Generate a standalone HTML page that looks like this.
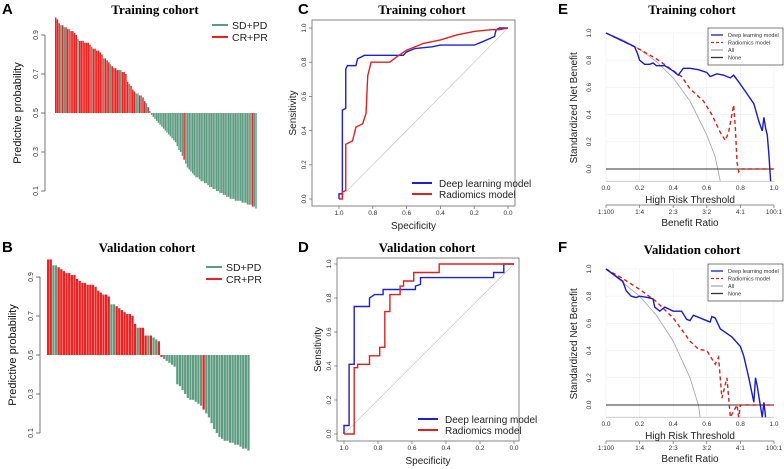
<!DOCTYPE html>
<html><head><meta charset="utf-8">
<style>
body{margin:0;background:#fff;width:784px;height:469px;overflow:hidden}
svg{position:absolute;left:0;top:0}
text{font-family:"Liberation Sans",sans-serif}
.tt{font-family:"Liberation Serif",serif;font-weight:bold;font-size:13px}
.pl{font-family:"Liberation Sans",sans-serif;font-weight:bold;font-size:15px}
</style></head><body>
<svg id="fig" width="784" height="469" viewBox="0 0 784 469">
<text class="pl" x="2" y="14">A</text>
<text class="tt" x="155" y="14" text-anchor="middle">Training cohort</text>
<text class="pl" x="2" y="252">B</text>
<text class="tt" x="147" y="252" text-anchor="middle">Validation cohort</text>
<text class="pl" x="298" y="14">C</text>
<text class="tt" x="422" y="14" text-anchor="middle">Training cohort</text>
<text class="pl" x="298" y="252">D</text>
<text class="tt" x="427" y="252" text-anchor="middle">Validation cohort</text>
<text class="pl" x="558" y="14">E</text>
<text class="tt" x="692" y="14" text-anchor="middle">Training cohort</text>
<text class="pl" x="558" y="252">F</text>
<text class="tt" x="692" y="254" text-anchor="middle">Validation cohort</text>
</svg>
<script>
// ---- Panel A data ----
const aValues = [0.99,0.98,0.96,0.95,0.95,0.94,0.94,0.93,0.93,0.92,0.92,0.91,0.90,0.88,0.87,0.87,0.87,0.86,0.86,0.86,0.85,0.84,0.83,0.83,0.82,0.82,0.81,0.80,0.78,0.78,0.77,0.76,0.75,0.74,0.73,0.73,0.72,0.72,0.72,0.71,0.71,0.70,0.66,0.65,0.64,0.62,0.61,0.60,0.60,0.59,0.59,0.58,0.56,0.55,0.53,0.51,
0.49,0.48,0.47,0.46,0.45,0.44,0.43,0.42,0.41,0.40,0.39,0.38,0.37,0.36,0.35,0.33,0.31,0.30,0.28,0.26,0.24,0.22,0.21,0.20,0.19,0.18,0.17,0.17,0.16,0.15,0.15,0.14,0.14,0.13,0.12,0.12,0.11,0.11,0.10,0.10,0.09,0.09,0.08,0.08,0.07,0.07,0.06,0.06,0.06,0.05,0.05,0.05,0.05,0.04,0.04,0.04,0.03,0.03,0.03,0.02,0.02,0.01];
const aLabels = "11101011011110111111101111110111011111011110111001011010"+"00000000000000000001000000000000000000000000000000000000000100";
// ---- Panel B data ----
const bValues = [0.99,0.99,0.96,0.96,0.95,0.94,0.93,0.92,0.92,0.91,0.91,0.89,0.88,0.87,0.87,0.86,0.86,0.86,0.85,0.83,0.82,0.81,0.81,0.80,0.76,0.76,0.75,0.74,0.73,0.72,0.71,0.71,0.70,0.66,0.64,0.64,0.64,0.60,0.60,0.60,0.59,0.58,0.57,0.49,
0.48,0.47,0.46,0.45,0.44,0.35,0.34,0.32,0.30,0.28,0.27,0.27,0.26,0.25,0.24,0.22,0.20,0.18,0.15,0.12,0.10,0.08,0.07,0.06,0.06,0.05,0.05,0.04,0.04,0.03,0.02,0.02,0.01];
const bLabels = "11001111111111111111111100111111110111010011"+"0000000000000001000000000000000000100";
// ---- ROC data (specificity, sensitivity) ----
const cDeepSpec=[1,1,0.98,0.98,0.96,0.96,0.95,0.9,0.89,0.87,0.85,0.62,0.6,0.55,0.45,0.4,0.2,0.15,0.08,0.07,0.05,0];
const cDeepSens=[0,0.03,0.03,0.52,0.53,0.76,0.78,0.78,0.82,0.83,0.84,0.84,0.86,0.88,0.89,0.9,0.9,0.92,0.95,0.99,1,1];
const cRadSpec=[1,0.98,0.98,0.96,0.96,0.92,0.9,0.86,0.84,0.83,0.81,0.7,0.66,0.6,0.5,0.4,0.3,0.2,0.1,0.05,0];
const cRadSens=[0,0,0.04,0.05,0.32,0.34,0.42,0.44,0.5,0.72,0.8,0.8,0.83,0.87,0.91,0.93,0.96,0.98,0.99,0.99,1];
const dDeepSpec=[1,1,0.97,0.97,0.94,0.94,0.85,0.85,0.82,0.77,0.77,0.58,0.58,0.55,0.55,0.12,0.12,0.06,0.06,0];
const dDeepSens=[0,0.05,0.05,0.41,0.41,0.75,0.75,0.8,0.82,0.82,0.85,0.85,0.87,0.88,0.92,0.92,0.95,0.95,1,1];
const dRadSpec=[1,0.94,0.94,0.92,0.92,0.85,0.85,0.79,0.79,0.76,0.76,0.73,0.73,0.67,0.67,0.65,0.65,0.59,0.59,0.44,0.44,0];
const dRadSens=[0,0,0.39,0.39,0.41,0.41,0.46,0.46,0.51,0.51,0.72,0.72,0.82,0.82,0.87,0.87,0.9,0.9,0.95,0.95,1,1];
// ---- DCA data (threshold, standardized net benefit) ----
const eDeepT=[0,0.17,0.19,0.2,0.23,0.26,0.28,0.3,0.35,0.4,0.43,0.46,0.5,0.55,0.6,0.62,0.66,0.7,0.74,0.76,0.79,0.83,0.88,0.91,0.93,0.94,0.95,0.96,0.97,0.98];
const eDeepNB=[1,0.9,0.84,0.8,0.77,0.77,0.78,0.76,0.76,0.72,0.69,0.74,0.74,0.73,0.71,0.68,0.7,0.69,0.67,0.69,0.64,0.57,0.48,0.35,0.28,0.38,0.3,0.25,0.1,-0.09];
const eRadT=[0,0.2,0.3,0.38,0.45,0.5,0.58,0.63,0.68,0.71,0.73,0.76,0.77,0.78,0.79,0.8,1];
const eRadNB=[1,0.88,0.81,0.74,0.68,0.59,0.5,0.4,0.27,0.21,0.27,0.47,0.3,0.05,-0.02,0,0];
const eAllT=[0,0.1,0.2,0.3,0.4,0.5,0.6,0.65,0.68];
const eAllNB=[1,0.95,0.88,0.79,0.67,0.5,0.25,0.09,-0.09];
const fDeepT=[0,0.1,0.12,0.15,0.18,0.2,0.25,0.28,0.29,0.32,0.35,0.4,0.45,0.48,0.5,0.52,0.56,0.6,0.62,0.63,0.65,0.68,0.75,0.8,0.82,0.85,0.88,0.89,0.9,0.93,0.94,0.95];
const fDeepNB=[1,0.91,0.84,0.8,0.79,0.8,0.79,0.78,0.72,0.69,0.72,0.69,0.69,0.63,0.62,0.66,0.64,0.62,0.61,0.65,0.64,0.56,0.5,0.43,0.36,0.2,0.02,0.2,0.14,-0.09,0.02,-0.09];
const fRadT=[0,0.1,0.2,0.3,0.4,0.5,0.55,0.6,0.62,0.65,0.67,0.69,0.72,0.74,0.78,0.79,0.8,1];
const fRadNB=[1,0.93,0.85,0.76,0.64,0.47,0.41,0.4,0.36,0.3,0.35,0.05,0.2,-0.09,0,-0.09,0,0];
const fAllT=[0,0.1,0.2,0.3,0.4,0.5,0.55,0.56];
const fAllNB=[1,0.9,0.8,0.66,0.47,0.2,0,-0.09];
const probTicks=["0.1","0.3","0.5","0.7","0.9"];
const rocTicks=["0.0","0.2","0.4","0.6","0.8","1.0"];
const ratioTicks=["1:100","1:4","2:3","3:2","4:1","100:1"];

const NS="http://www.w3.org/2000/svg";
const svg=document.getElementById('fig');
function mk(tag,attrs,txt){const e=document.createElementNS(NS,tag);for(const k in attrs)e.setAttribute(k,attrs[k]);if(txt!==undefined)e.textContent=txt;svg.appendChild(e);return e;}

// ---------- bar panels ----------
function barPanel(vals,labs,p){
  const sx=i=>p.x0+(p.x1-p.x0)*i/vals.length;
  const sy=v=>p.y5-(v-0.5)*p.k;
  const w=(p.x1-p.x0)/vals.length;
  vals.forEach((v,i)=>{
    const y1=sy(v),y0=sy(0.5);
    const r=mk('rect',{x:sx(i),y:Math.min(y0,y1),width:w*0.85,height:Math.abs(y1-y0),fill:labs[i]==='1'?'#f01e1e':'#5e9c82'});
    
    
  });
  const ax=mk('line',{x1:p.ax,x2:p.ax,y1:sy(0.9),y2:sy(0.1),stroke:'#555','stroke-width':0.8});
  
  
  probTicks.forEach(t=>{
    const v=parseFloat(t),y=sy(v);
    mk('line',{x1:p.ax-4,x2:p.ax,y1:y,y2:y,stroke:'#555','stroke-width':0.8});
    const tx=mk('text',{x:p.ax-7,y:y,'font-size':7,fill:'#333','text-anchor':'middle',transform:`rotate(-90 ${p.ax-7} ${y})`},t);
    
    
  });
  const yl=mk('text',{x:p.ax-24,y:sy(0.5),'font-size':11,fill:'#111','text-anchor':'middle',transform:`rotate(-90 ${p.ax-24} ${sy(0.5)})`},'Predictive probability');
  
  
  [['SD+PD','#5e9c82'],['CR+PR','#f01e1e']].forEach((l,j)=>{
    const y=p.ly+j*12;
    mk('line',{x1:p.lx,x2:p.lx+16,y1:y,y2:y,stroke:l[1],'stroke-width':2});
    const t=mk('text',{x:p.lx+20,y:y+4,'font-size':10.5,fill:'#222'},l[0]);
    
    
  });
}
barPanel(aValues,aLabels,{id:'a',x0:55,x1:257,y5:113,k:195,ax:45,lx:212,ly:25});
barPanel(bValues,bLabels,{id:'b',x0:47,x1:250,y5:355,k:195,ax:40,lx:206,ly:267});

// ---------- ROC panels ----------
function rocPanel(p,series){
  const X=s=>p.xs0+(p.xs1-p.xs0)*s;
  const Y=v=>p.ys0-(p.ys0-p.ys1)*v;
  const b=mk('rect',{x:p.bx0,y:p.by0,width:p.bx1-p.bx0,height:p.by1-p.by0,fill:'none',stroke:'#666','stroke-width':0.8});
  
  
  mk('line',{x1:X(1),y1:Y(0),x2:X(0),y2:Y(1),stroke:'#ccc','stroke-width':0.8});
  rocTicks.forEach(t=>{
    const v=parseFloat(t);
    mk('line',{x1:X(v),x2:X(v),y1:p.by1,y2:p.by1+3,stroke:'#666','stroke-width':0.7});
    const tx=mk('text',{x:X(v),y:p.by1+9,'font-size':6.5,fill:'#333','text-anchor':'middle'},t);
    
    
    mk('line',{x1:p.bx0-3,x2:p.bx0,y1:Y(v),y2:Y(v),stroke:'#666','stroke-width':0.7});
    const ty=mk('text',{x:p.bx0-6,y:Y(v),'font-size':6.5,fill:'#333','text-anchor':'middle',transform:`rotate(-90 ${p.bx0-6} ${Y(v)})`},t);
    
    
  });
  const xl=mk('text',{x:(p.bx0+p.bx1)/2,y:p.by1+23,'font-size':10,fill:'#222','text-anchor':'middle'},'Specificity');
  
  
  const ym=(p.by0+p.by1)/2;
  const yl=mk('text',{x:p.bx0-16,y:ym,'font-size':10,fill:'#222','text-anchor':'middle',transform:`rotate(-90 ${p.bx0-16} ${ym})`},'Sensitivity');
  
  
  series.forEach((s,j)=>{
    const pts=s.sp.map((v,i)=>X(v)+','+Y(s.se[i])).join(' ');
    const pl=mk('polyline',{points:pts,fill:'none',stroke:s.c,'stroke-width':1.4});
    
    
    const ly=p.ly+j*11;
    mk('line',{x1:p.lx,x2:p.lx+20,y1:ly,y2:ly,stroke:s.c,'stroke-width':2});
    const lt=mk('text',{x:p.lx+27,y:ly+4,'font-size':10,fill:'#222'},s.label);
    
    
  });
}
rocPanel({id:'c',bx0:312,bx1:515,by0:20,by1:206,xs0:508,xs1:339,ys0:199,ys1:28,lx:412,ly:183},
  [{sp:cDeepSpec,se:cDeepSens,c:'#2020d0',n:'deep',label:'Deep learning model'},{sp:cRadSpec,se:cRadSens,c:'#e02020',n:'radiomics',label:'Radiomics model'}]);
rocPanel({id:'d',bx0:337,bx1:519,by0:258,by1:441,xs0:514,xs1:344,ys0:434,ys1:264,lx:418,ly:419},
  [{sp:dDeepSpec,se:dDeepSens,c:'#2020d0',n:'deep',label:'Deep learning model'},{sp:dRadSpec,se:dRadSens,c:'#e02020',n:'radiomics',label:'Radiomics model'}]);

// ---------- DCA panels ----------
function dcaPanel(p,deepT,deepNB,radT,radNB,allT,allNB){
  const X=t=>p.x0+(p.x1-p.x0)*t;
  const Y=v=>p.y0-(p.y0-p.y1)*v;
  for(let i=0;i<=5;i++){mk('line',{x1:X(i/5),x2:X(i/5),y1:Y(1),y2:Y(-0.09),stroke:'#eee','stroke-width':0.6});mk('line',{x1:X(0),x2:X(1),y1:Y(i/5),y2:Y(i/5),stroke:'#eee','stroke-width':0.6});}
  mk('line',{x1:X(0),x2:X(1),y1:Y(-0.09),y2:Y(-0.09),stroke:'#bbb','stroke-width':0.8});
  const ap=mk('polyline',{points:allT.map((t,i)=>X(t)+','+Y(allNB[i])).join(' '),fill:'none',stroke:'#aaa','stroke-width':0.9});
  
  
  const nl=mk('line',{x1:X(0),x2:X(1),y1:Y(0),y2:Y(0),stroke:'#333','stroke-width':1});
  
  
  const rp=mk('polyline',{points:radT.map((t,i)=>X(t)+','+Y(radNB[i])).join(' '),fill:'none',stroke:'#d42020','stroke-width':1.4,'stroke-dasharray':'4,3'});
  
  
  const dp=mk('polyline',{points:deepT.map((t,i)=>X(t)+','+Y(deepNB[i])).join(' '),fill:'none',stroke:'#1a1ac8','stroke-width':1.4});
  
  
  const ax=p.y0+21;
  rocTicks.forEach((t,i)=>{
    const v=parseFloat(t);
    const tx=mk('text',{x:X(v),y:ax,'font-size':6.5,fill:'#333','text-anchor':'middle'},t);
    
    
    const ty=mk('text',{x:X(0)-15,y:Y(v),'font-size':6.5,fill:'#333','text-anchor':'middle',transform:`rotate(-90 ${X(0)-15} ${Y(v)})`},t);
    
    
    mk('line',{x1:X(v),x2:X(v),y1:ax+15,y2:ax+18,stroke:'#666','stroke-width':0.7});
    const rt=mk('text',{x:X(v),y:ax+24,'font-size':6.5,fill:'#333','text-anchor':'middle'},ratioTicks[i]);
    
    
  });
  mk('line',{x1:X(0),x2:X(1),y1:ax+15,y2:ax+15,stroke:'#666','stroke-width':0.7});
  const xl=mk('text',{x:X(0.5),y:ax+13,'font-size':10,fill:'#222','text-anchor':'middle'},'High Risk Threshold');
  
  
  const bl=mk('text',{x:X(0.5),y:ax+36,'font-size':10,fill:'#222','text-anchor':'middle'},'Benefit Ratio');
  
  
  const ym=Y(0.45);
  const yl=mk('text',{x:X(0)-29,y:ym,'font-size':10,fill:'#222','text-anchor':'middle',transform:`rotate(-90 ${X(0)-29} ${ym})`},'Standardized Net Benefit');
  
  
  const lg=mk('rect',{x:p.lx,y:p.ly,width:75,height:37,fill:'#fff',stroke:'#444','stroke-width':0.7});
  
  
  [['Deep learning model','#1a1ac8',''],['Radiomics model','#d42020','3,2'],['All','#aaa',''],['None','#333','']].forEach((l,j)=>{
    const y=p.ly+7+j*7.5;
    mk('line',{x1:p.lx+3,x2:p.lx+15,y1:y,y2:y,stroke:l[1],'stroke-width':1.3,'stroke-dasharray':l[2]||'none'});
    const t=mk('text',{x:p.lx+20,y:y+2,'font-size':5.5,fill:'#333'},l[0]);
    
    
  });
}
dcaPanel({id:'e',x0:606,x1:774,y0:169,y1:33,lx:708,ly:28},eDeepT,eDeepNB,eRadT,eRadNB,eAllT,eAllNB);
dcaPanel({id:'f',x0:606,x1:774,y0:405,y1:269,lx:708,ly:264},fDeepT,fDeepNB,fRadT,fRadNB,fAllT,fAllNB);
</script>
</body></html>
